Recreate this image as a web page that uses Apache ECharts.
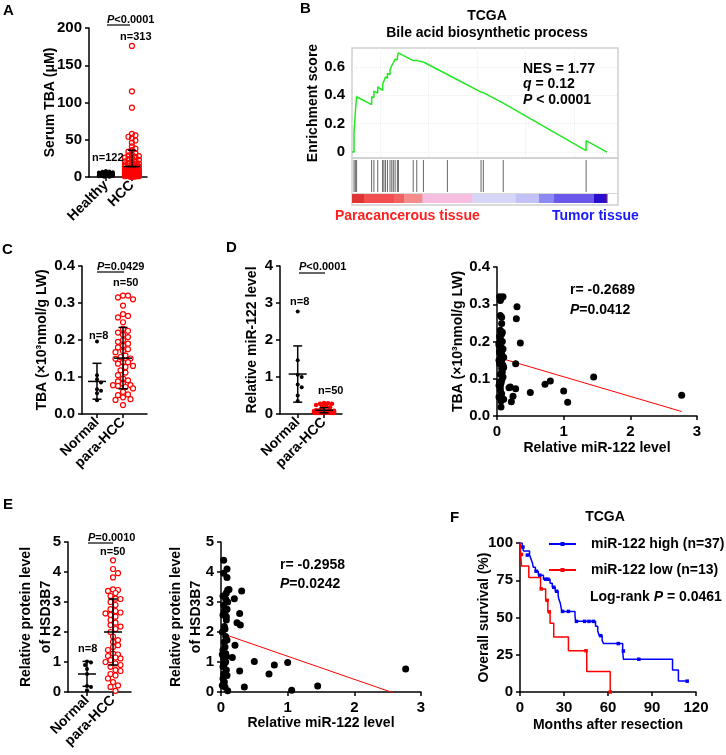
<!DOCTYPE html>
<html>
<head>
<meta charset="utf-8">
<script src="https://cdn.jsdelivr.net/npm/echarts@6/dist/echarts.min.js"></script>
<style>html,body{margin:0;padding:0;background:#fff}#main{width:726px;height:755px}</style>
</head>
<body>
<div id="main"></div>
<script>
var font = '"Liberation Sans", Arial, Helvetica, sans-serif';

// ---------- A: serum TBA ----------
var aGroups = ['Healthy', 'HCC'];
var healthyTBA = [8, 7.5, 7, 6.5, 6, 6, 5.5, 5.5, 5, 5, 5, 4.5, 4.5, 4.5, 4, 4, 4, 4, 3.5, 3.5, 3.5, 3, 3, 3, 3,
  2.5, 2.5, 2.5, 2, 2, 2, 2, 1.5, 1.5, 1.5, 1, 1, 1, 0.5, 0.5];
var hccSerumTBA = [176, 115, 93, 58, 56, 54, 52, 49, 46, 41, 38, 36, 34, 32, 30, 29, 28, 27, 26, 25, 24, 23, 22, 21,
  20, 19, 18, 18, 17, 16, 16, 15, 15, 14, 14, 13, 13, 12, 12, 12, 11, 11, 10, 10, 10, 9, 9, 9, 8, 8, 8, 8,
  7, 7, 7, 7, 6, 6, 6, 6, 5, 5, 5, 5, 5, 4, 4, 4, 4, 4, 3, 3, 3, 3, 3, 2, 2, 2, 2, 2, 1, 1, 1, 1, 0.5, 0.5, 0.5];
var aErr = [[1, 3, 1.5, 4.5], [2, 14, 14, 36]]; // [group, mean, low, high]

// ---------- B: GSEA ----------
var esCurve = [[0, 0], [0.8, 0], [0.8, 0.14], [1.3, 0.14], [1.3, 0.28], [1.8, 0.28], [1.8, 0.39], [7.7, 0.335],
  [7.7, 0.39], [8.6, 0.385], [8.6, 0.43], [10.1, 0.415], [10.1, 0.46], [12.0, 0.435], [12.0, 0.48], [12.5, 0.475],
  [12.5, 0.5], [13.1, 0.5], [13.1, 0.53], [13.9, 0.52], [13.9, 0.555], [14.9, 0.545], [14.9, 0.58], [15.6, 0.575],
  [15.6, 0.61], [16.2, 0.605], [16.2, 0.63], [16.9, 0.625], [16.9, 0.655], [17.8, 0.65], [17.8, 0.675], [18.2, 0.675],
  [18.2, 0.7], [24.0, 0.645], [24.0, 0.655], [25.4, 0.645], [25.4, 0.655], [28.0, 0.635], [28.0, 0.64], [37.4, 0.547],
  [37.4, 0.553], [50.6, 0.423], [50.6, 0.428], [51.5, 0.419], [51.5, 0.424], [59.3, 0.345], [59.3, 0.35],
  [91.8, 0.01], [91.8, 0.08], [100, 0]];
var hitRanks = [0.8, 1.3, 1.8, 7.7, 8.6, 10.1, 12.0, 12.5, 13.1, 13.9, 14.9, 15.6, 16.2, 16.9, 17.8, 18.2,
  24.0, 25.4, 28.0, 37.4, 50.6, 51.5, 59.3, 91.8];
var rankEdges = [0, 4.7, 16.5, 20.4, 27.6, 47.2, 64.2, 73.3, 79.2, 94.9, 99.5, 100];
var rankColors = ['#e03434', '#f25050', '#f26262', '#f58c8c', '#f8bee2', '#d6d6f8', '#c2c2f8', '#8a8af2',
  '#6a58e8', '#2a0ccc', '#5a1e9e'];

// ---------- C / D / E: tissue samples ----------
var groupNames = ['Normal', 'para-HCC'];
var normalMiR = [2.77, 1.45, 1.06, 1.0, 0.8, 0.72, 0.5, 0.35];
var normalTBA = [0.056, 0.105, 0.037, 0.067, 0.094, 0.085, 0.063, 0.196];
var normalHSD = [0.77, 0.2, 0.06, 0.98, 0.9, 0.6, 1.02, 0.17];
var hccMiRTBA = [[0.04, 0.32], [0.06, 0.315], [0.09, 0.32], [0.05, 0.27], [0.07, 0.265], [0.07, 0.248], [0.05, 0.23],
  [0.07, 0.22], [0.04, 0.214], [0.05, 0.208], [0.08, 0.2], [0.03, 0.195], [0.06, 0.185], [0.09, 0.18], [0.04, 0.17],
  [0.07, 0.167], [0.1, 0.158], [0.05, 0.154], [0.07, 0.149], [0.04, 0.14], [0.09, 0.136], [0.07, 0.127], [0.08, 0.118],
  [0.05, 0.112], [0.04, 0.091], [0.07, 0.096], [0.03, 0.082], [0.05, 0.078], [0.05, 0.069], [0.07, 0.06], [0.03, 0.051],
  [0.06, 0.04], [0.06, 0.024], [0.3, 0.293], [0.29, 0.261], [0.28, 0.14], [0.2, 0.078], [0.18, 0.076], [0.28, 0.073],
  [0.24, 0.053], [0.215, 0.038], [0.03, 0.19], [0.1, 0.13], [0.05, 0.31], [0.08, 0.225], [0.04, 0.175], [0.09, 0.105],
  [0.06, 0.088], [0.03, 0.15], [0.1, 0.045]];
var hccMiRHSD = [[0.04, 4.39], [0.09, 4.1], [0.04, 3.96], [0.09, 3.82], [0.1, 3.4], [0.12, 3.42], [0.08, 3.3], [0.07, 3.1],
  [0.2, 3.11], [0.31, 3.37], [0.04, 2.9], [0.09, 2.76], [0.06, 2.65], [0.03, 2.57], [0.08, 2.51], [0.28, 2.62],
  [0.24, 2.31], [0.29, 2.23], [0.05, 2.18], [0.02, 2.0], [0.09, 1.73], [0.05, 1.67], [0.21, 1.56], [0.07, 1.28],
  [0.08, 1.2], [0.04, 1.12], [0.06, 1.06], [0.05, 0.95], [0.03, 0.84], [0.08, 0.73], [0.17, 1.15], [0.28, 0.7],
  [0.1, 0.04], [0.03, 0.45], [0.05, 0.33], [0.02, 0.22], [0.06, 0.17], [0.03, 3.2], [0.06, 1.5], [0.08, 2.4],
  [0.04, 0.6], [0.07, 1.0], [0.05, 2.7], [0.03, 1.4], [0.07, 1.85], [0.1, 3.0], [0.04, 0.9], [0.06, 2.1],
  [0.09, 0.55], [0.02, 1.25]];
var cErr = [[1, 0.088, 0.04, 0.137], [2, 0.151, 0.068, 0.234]];
var dErr = [[1, 1.08, 0.32, 1.84], [2, 0.1, 0.03, 0.17]];
var eErr = [[1, 0.6, 0.19, 1.02], [2, 2.0, 0.9, 3.1]];
var tbaFit = [[0.02, 0.157], [2.77, 0.012]];
var hsdFit = [[0.04, 1.93], [2.77, -0.17]];

// ---------- F: survival ----------
var kmHigh = [[0, 100], [1.5, 97.3], [2.5, 94.6], [6.5, 91.9], [7.5, 89.2], [8.5, 86.5], [9, 83.8], [10.5, 81.1],
  [12.5, 78.4], [16, 75.7], [20.5, 73], [22, 70.3], [24, 67.6], [26, 64.9], [26.5, 62.2], [27.5, 59.5], [28, 56.8],
  [28.5, 54.1], [37.5, 50.8], [38, 47.4], [51.5, 44.2], [53, 41], [54, 37.8], [56, 34.5], [57, 32.5], [70, 27.5],
  [70.5, 22], [104, 14.7], [108, 7.3], [114, 7.3]];
var kmHighCensor = [[2, 97.3], [5, 91.9], [11, 81.1], [13.5, 78.4], [17.5, 75.7], [19, 75.7], [23, 70.3], [25, 67.6],
  [29, 54.1], [33, 54.1], [38.5, 47.4], [44, 47.4], [47, 47.4], [50, 47.4], [55, 37.8], [67, 32.5], [70.5, 27.5],
  [81, 22], [114, 7.3]];
var kmLow = [[0, 100], [0.5, 92.3], [1, 84.6], [6, 76.9], [14, 69.2], [17.5, 61.5], [19, 53.8], [20.5, 46.2],
  [23, 36.9], [33, 27.7], [45.5, 13.8], [61.5, 0]];
var kmLowCensor = [[1, 92.3], [14.5, 69.2], [18.5, 61.5], [20, 53.8], [45, 27.7], [61.5, 0]];

// ---------- layout ----------
// grid boxes [left, top, width, height]
var box = {
  A: [89, 28, 58, 149], B1: [352, 48, 266, 110], B2: [352, 158, 266, 47],
  C: [82, 266, 65, 148], Dl: [280, 266, 62, 148], Dr: [497, 267, 200, 149],
  El: [68, 542, 63, 150], Er: [221, 542, 200, 150], F: [520, 543, 176, 149]
};
var order = ['A', 'B1', 'B2', 'C', 'Dl', 'Dr', 'El', 'Er', 'F'];
var gi = {};
order.forEach(function (k, i) { gi[k] = i; });

var xr = {A: [0.35, 2.58], C: [0.423, 2.923], Dl: [0.327, 2.684], El: [0.269, 2.692]};
var yr = {A: [0, 200], C: [0, 0.4], Dl: [0, 4], El: [0, 5]};

function merge(a, b) {
  var o = {};
  for (var k in a) o[k] = a[k];
  for (var k2 in b) {
    if (o[k2] && typeof o[k2] === 'object' && !Array.isArray(o[k2]) && typeof b[k2] === 'object' && !Array.isArray(b[k2])) {
      o[k2] = merge(o[k2], b[k2]);
    } else o[k2] = b[k2];
  }
  return o;
}

function ax(extra) {
  return merge({
    type: 'value',
    axisLine: {show: true, onZero: false, lineStyle: {color: '#000', width: 1.5}},
    axisTick: {show: true, length: 4, lineStyle: {color: '#000', width: 1.5}},
    axisLabel: {color: '#000', fontFamily: font, fontWeight: 'bold', fontSize: 15, margin: 7},
    splitLine: {show: false},
    nameLocation: 'middle',
    nameMoveOverlap: false,
    nameTextStyle: {color: '#000', fontFamily: font, fontWeight: 'bold', fontSize: 14}
  }, extra);
}

function groupX(key) {
  return ax({
    gridIndex: gi[key], min: xr[key][0], max: xr[key][1],
    axisTick: {customValues: [1, 2]},
    axisLabel: {customValues: [1, 2], rotate: 45, margin: 6, fontSize: 14,
      formatter: function (v) { return (key === 'A' ? aGroups : groupNames)[Math.round(v) - 1]; }}
  });
}

function swarm(values, center, key, d, maxW) {
  var b = box[key];
  var kx = b[2] / (xr[key][1] - xr[key][0]);
  var ky = b[3] / (yr[key][1] - yr[key][0]);
  var placed = [], out = [];
  var sorted = values.slice().sort(function (p, q) { return q - p; });
  var step = d / 2, nSteps = Math.floor(maxW / step);
  sorted.forEach(function (v) {
    var y = v * ky, best = 0, bestGap = -1;
    for (var k = 0; k <= 2 * nSteps; k++) {
      var off = (k % 2 ? 1 : -1) * Math.ceil(k / 2) * step;
      var gap = Infinity;
      placed.forEach(function (p) {
        var dd = Math.hypot(p[0] - off, p[1] - y);
        if (dd < gap) gap = dd;
      });
      if (gap >= d) { best = off; break; }
      if (gap > bestGap) { bestGap = gap; best = off; }
    }
    placed.push([best, y]);
    out.push([center + best / kx, v]);
  });
  return out;
}

function dots(key, data, size, fill, stroke) {
  return {
    type: 'scatter', xAxisIndex: gi[key], yAxisIndex: gi[key], data: data, symbolSize: size, silent: true,
    itemStyle: stroke ? {color: fill, borderColor: stroke, borderWidth: 1.2, opacity: 1} : {color: fill, opacity: 1}
  };
}

function errBars(key, data, meanW, capW) {
  return {
    type: 'custom', xAxisIndex: gi[key], yAxisIndex: gi[key], data: data, z: 5, silent: true,
    renderItem: function (params, api) {
      var m = api.coord([api.value(0), api.value(1)]);
      var lo = api.coord([api.value(0), api.value(2)]);
      var hi = api.coord([api.value(0), api.value(3)]);
      var st = {stroke: '#000', lineWidth: 1.5};
      return {type: 'group', children: [
        {type: 'line', shape: {x1: m[0] - meanW / 2, y1: m[1], x2: m[0] + meanW / 2, y2: m[1]}, style: st},
        {type: 'line', shape: {x1: lo[0], y1: lo[1], x2: hi[0], y2: hi[1]}, style: st},
        {type: 'line', shape: {x1: lo[0] - capW / 2, y1: lo[1], x2: lo[0] + capW / 2, y2: lo[1]}, style: st},
        {type: 'line', shape: {x1: hi[0] - capW / 2, y1: hi[1], x2: hi[0] + capW / 2, y2: hi[1]}, style: st}
      ]};
    }
  };
}

function txt(x, y, s, size, color, align) {
  color = color || '#000';
  return {type: 'text', x: x, y: y, silent: true, z: 10, style: {
    text: s, fontSize: size, fontWeight: 'bold', fontFamily: font, fill: color,
    align: align || 'left', verticalAlign: 'middle',
    rich: {i: {fontStyle: 'italic', fontWeight: 'bold', fontSize: size, fontFamily: font, fill: color}}
  }};
}
function seg(x1, y1, x2) {
  return {type: 'line', silent: true, shape: {x1: x1, y1: y1, x2: x2, y2: y1}, style: {stroke: '#000', lineWidth: 1.2}};
}

// grids
var grids = order.map(function (k) {
  var b = box[k];
  var g = {left: b[0], top: b[1], width: b[2], height: b[3], containLabel: false};
  if (k === 'B1' || k === 'B2') { g.show = true; g.borderColor = '#d0d0d0'; g.borderWidth = 1.5; }
  return g;
});

var fmt1 = function (v) { return v === 0 ? '0.0' : v.toFixed(1); };
var gsGrid = {show: true, lineStyle: {color: '#ececec', type: 'dotted', width: 1}};

var xAxes = [
  groupX('A'),
  ax({gridIndex: 1, min: 0, max: 104.3, axisLine: {show: false}, axisTick: {show: false, customValues: [11, 30, 49, 68, 87]},
    axisLabel: {show: false, customValues: [11, 30, 49, 68, 87]}, splitLine: gsGrid}),
  ax({gridIndex: 2, min: 0, max: 104.3, axisLine: {show: false}, axisTick: {show: false}, axisLabel: {show: false}}),
  groupX('C'),
  groupX('Dl'),
  ax({gridIndex: 5, min: 0, max: 3, interval: 1, name: 'Relative miR-122 level', nameGap: 25, axisLabel: {margin: 8}}),
  groupX('El'),
  ax({gridIndex: 7, min: 0, max: 3, interval: 1, name: 'Relative miR-122 level', nameGap: 24, axisLabel: {margin: 8}}),
  ax({gridIndex: 8, min: 0, max: 120, interval: 30, name: 'Months after resection', nameGap: 26, axisLabel: {margin: 8}})
];

var yAxes = [
  ax({gridIndex: 0, min: 0, max: 200, interval: 50, name: 'Serum TBA (\u03bcM)', nameGap: 32}),
  ax({gridIndex: 1, min: -0.042, max: 0.734, name: 'Enrichment score', nameGap: 32,
    axisLine: {show: false}, axisTick: {show: false, customValues: [0, 0.2, 0.4, 0.6]},
    axisLabel: {customValues: [0, 0.2, 0.4, 0.6], formatter: function (v) { return v === 0 ? '0' : v.toFixed(1); }},
    splitLine: gsGrid}),
  ax({gridIndex: 2, min: 0, max: 1, axisLine: {show: false}, axisTick: {show: false}, axisLabel: {show: false}}),
  ax({gridIndex: 3, min: 0, max: 0.4, interval: 0.1, name: 'TBA (\u00d710\u00b3nmol/g LW)', nameGap: 33, axisLabel: {formatter: fmt1}}),
  ax({gridIndex: 4, min: 0, max: 4, interval: 1, name: 'Relative miR-122 level', nameGap: 21}),
  ax({gridIndex: 5, min: 0, max: 0.4, interval: 0.1, name: 'TBA (\u00d710\u00b3nmol/g LW)', nameGap: 32, axisLabel: {formatter: fmt1}}),
  ax({gridIndex: 6, min: 0, max: 5, interval: 1, name: 'Relative protein level\nof HSD3B7', nameGap: 12,
    nameTextStyle: {lineHeight: 20}}),
  ax({gridIndex: 7, min: 0, max: 5, interval: 1, name: 'Relative protein level\nof HSD3B7', nameGap: 15,
    nameTextStyle: {lineHeight: 20}}),
  ax({gridIndex: 8, min: 0, max: 100, interval: 25, name: 'Overall survival (%)', nameGap: 29})
];

function pairs(xs, ys) { return xs.map(function (x, i) { return [x, ys[i]]; }); }
var tbaScatter = pairs(normalMiR, normalTBA).concat(hccMiRTBA);
var hsdScatter = pairs(normalMiR, normalHSD).concat(hccMiRHSD);

var series = [
  // A
  dots('A', swarm(healthyTBA, 1, 'A', 3.5, 8), 4, '#000'),
  dots('A', swarm(hccSerumTBA, 2, 'A', 3.5, 8), 5, 'rgba(255,255,255,0)', '#ff0000'),
  errBars('A', aErr, 17, 8),
  // B
  {type: 'line', xAxisIndex: 1, yAxisIndex: 1, data: esCurve, symbol: 'none', silent: true,
    lineStyle: {color: '#22e822', width: 1.5}},
  {type: 'custom', xAxisIndex: 2, yAxisIndex: 2, silent: true,
    data: hitRanks.map(function (r) { return [r, 0.5]; }),
    renderItem: function (p, api) {
      var a = api.coord([api.value(0), 0.957]), b = api.coord([api.value(0), 0.277]);
      return {type: 'line', shape: {x1: a[0], y1: a[1], x2: b[0], y2: b[1]}, style: {stroke: '#666', lineWidth: 1}};
    },
    markLine: {silent: true, symbol: 'none', label: {show: false}, data: [{yAxis: 0.245}],
      lineStyle: {color: '#d8d8d8', type: 'solid', width: 1}}},
  {type: 'custom', xAxisIndex: 2, yAxisIndex: 2, silent: true,
    data: rankColors.map(function (c, i) { return [rankEdges[i], rankEdges[i + 1], i]; }),
    renderItem: function (p, api) {
      var a = api.coord([api.value(0), 0.234]), b = api.coord([api.value(1), 0.043]);
      return {type: 'rect', shape: {x: a[0], y: a[1], width: b[0] - a[0] + 0.5, height: b[1] - a[1]},
        style: {fill: rankColors[api.value(2)]}};
    }},
  // C
  dots('C', swarm(normalTBA, 1, 'C', 4, 6), 4, '#000'),
  dots('C', swarm(hccMiRTBA.map(function (p) { return p[1]; }), 2, 'C', 5, 10), 5, '#fff', '#ff0000'),
  errBars('C', cErr, 18, 9),
  // D left
  dots('Dl', swarm(normalMiR, 1, 'Dl', 4, 6), 4, '#000'),
  dots('Dl', swarm(hccMiRTBA.map(function (p) { return p[0]; }), 2, 'Dl', 4, 10), 4.5, '#ff0000'),
  errBars('Dl', dErr, 18, 9),
  // D right
  {type: 'scatter', xAxisIndex: 5, yAxisIndex: 5, data: tbaScatter, symbolSize: 7, silent: true, z: 3,
    itemStyle: {color: '#000', opacity: 1}},
  {type: 'line', xAxisIndex: 5, yAxisIndex: 5, data: tbaFit, symbol: 'none', silent: true, z: 2,
    lineStyle: {color: '#ff0000', width: 1}},
  // E left
  dots('El', swarm(normalHSD, 1, 'El', 4, 6), 4, '#000'),
  dots('El', swarm(hccMiRHSD.map(function (p) { return p[1]; }), 2, 'El', 5, 9), 5, '#fff', '#ff0000'),
  errBars('El', eErr, 18, 9),
  // E right
  {type: 'scatter', xAxisIndex: 7, yAxisIndex: 7, data: hsdScatter, symbolSize: 7, silent: true, z: 3,
    itemStyle: {color: '#000', opacity: 1}},
  {type: 'line', xAxisIndex: 7, yAxisIndex: 7, data: hsdFit, symbol: 'none', silent: true, z: 2, clip: true,
    lineStyle: {color: '#ff0000', width: 1}},
  // F
  {name: 'miR-122 high (n=37)', type: 'line', step: 'end', xAxisIndex: 8, yAxisIndex: 8, data: kmHigh,
    symbol: 'rect', symbolSize: 4, showSymbol: false, silent: true, color: '#0000ff',
    lineStyle: {color: '#0000ff', width: 1.5}},
  {name: 'miR-122 low (n=13)', type: 'line', step: 'end', xAxisIndex: 8, yAxisIndex: 8, data: kmLow,
    symbol: 'rect', symbolSize: 4, showSymbol: false, silent: true, color: '#ff0000',
    lineStyle: {color: '#ff0000', width: 1.5}},
  {type: 'scatter', xAxisIndex: 8, yAxisIndex: 8, data: kmHighCensor, symbol: 'rect', symbolSize: 3.5, silent: true,
    itemStyle: {color: '#0000ff', opacity: 1}},
  {type: 'scatter', xAxisIndex: 8, yAxisIndex: 8, data: kmLowCensor, symbol: 'rect', symbolSize: 3.5, silent: true,
    itemStyle: {color: '#ff0000', opacity: 1}}
];

var graphics = [
  txt(3, 11, 'A', 15), txt(300, 9, 'B', 15), txt(2, 250, 'C', 15),
  txt(226, 248, 'D', 15), txt(3, 505, 'E', 15), txt(450, 518, 'F', 15),
  // A
  txt(107, 20, '{i|P}<0.0001', 11), seg(107, 25, 130), txt(120, 37, 'n=313', 11), txt(92, 158, 'n=122', 11),
  // B
  txt(487, 16, 'TCGA', 14, '#000', 'center'), txt(487, 33, 'Bile acid biosynthetic process', 14, '#000', 'center'),
  txt(523, 69, 'NES = 1.77', 14), txt(523, 84, '{i|q} = 0.12', 14), txt(523, 100, '{i|P} < 0.0001', 14),
  txt(335, 216, 'Paracancerous tissue', 14, '#ff2020'), txt(552, 216, 'Tumor tissue', 14, '#1a1aff'),
  // C
  txt(97, 267, '{i|P}=0.0429', 11), seg(97, 272, 124), txt(113, 283, 'n=50', 11), txt(89, 336, 'n=8', 11),
  // D
  txt(299, 267, '{i|P}<0.0001', 11), seg(299, 273, 325), txt(290, 302, 'n=8', 11), txt(318, 391, 'n=50', 11),
  txt(570, 290, 'r= -0.2689', 14), txt(570, 310, '{i|P}=0.0412', 14),
  // E
  txt(88, 538, '{i|P}=0.0010', 11), seg(88, 543, 113), txt(100, 552, 'n=50', 11), txt(78, 649, 'n=8', 11),
  txt(280, 565, 'r= -0.2958', 14), txt(280, 584, '{i|P}=0.0242', 14),
  // F
  txt(605, 517, 'TCGA', 14, '#000', 'center'), txt(590, 597, 'Log-rank {i|P} = 0.0461', 14)
];

var chart = echarts.init(document.getElementById('main'));
chart.setOption({
  animation: false,
  backgroundColor: '#fff',
  grid: grids,
  xAxis: xAxes,
  yAxis: yAxes,
  legend: {
    left: 548, top: 537, padding: 0, orient: 'vertical', itemGap: 12, itemWidth: 27, itemHeight: 5, selectedMode: false,
    data: ['miR-122 high (n=37)', 'miR-122 low (n=13)'],
    textStyle: {color: '#000', fontFamily: font, fontWeight: 'bold', fontSize: 14, padding: [0, 0, 0, 10]}
  },
  series: series,
  graphic: graphics
});
</script>
</body>
</html>
